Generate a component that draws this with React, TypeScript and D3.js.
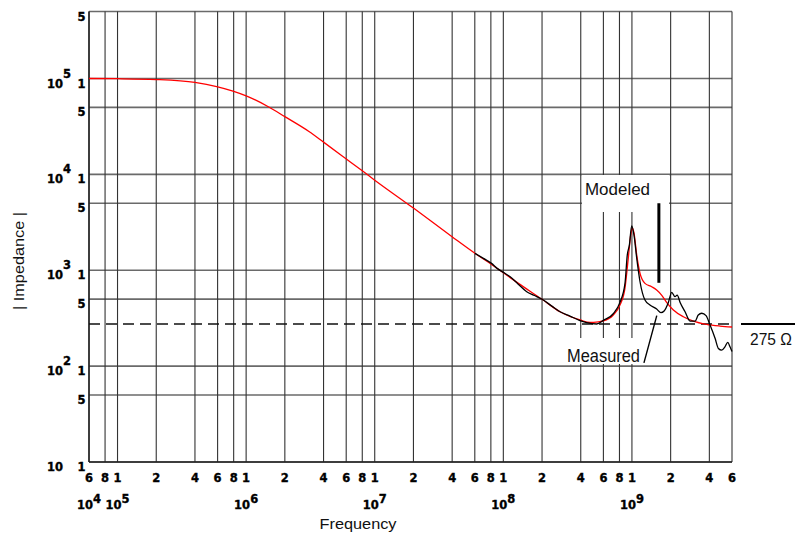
import React from 'react';
import * as d3 from 'd3';

// ---- axis / grid data ----
const xGridFreqs = [6e4, 8e4, 1e5, 2e5, 4e5, 6e5, 8e5, 1e6, 2e6, 4e6, 6e6, 8e6, 1e7, 2e7, 4e7, 6e7, 8e7, 1e8, 2e8, 4e8, 6e8, 8e8, 1e9, 2e9, 4e9, 6e9];
const xTickLabels = ['6', '8', '1', '2', '4', '6', '8', '1', '2', '4', '6', '8', '1', '2', '4', '6', '8', '1', '2', '4', '6', '8', '1', '2', '4', '6'];
const xDecadeFreqs = [6e4, 1e5, 1e6, 1e7, 1e8, 1e9];
const xDecadeExps = ['4', '5', '6', '7', '8', '9'];

const yGridValues = [10, 50, 100, 500, 1e3, 5e3, 1e4, 5e4, 1e5, 5e5];
const yTickLabels = ['1', '5', '1', '5', '1', '5', '1', '5', '1', '5'];
const yDecadeValues = [10, 100, 1e3, 1e4, 1e5];
const yDecadeExps = ['', '2', '3', '4', '5'];

// ---- series ----
const modeledFreq = [6e4, 1e5, 2e5, 4e5, 5.9e5, 7.9e5, 1e6, 1.5e6, 2e6, 3.08e6, 4e6, 6.05e6, 8.15e6, 1e7, 2e7, 3.97e7, 6.2e7, 8.1e7, 1e8, 1.31e8, 2e8, 2.76e8, 3.95e8, 4.72e8, 5.48e8, 6e8, 7.16e8, 8.07e8, 8.83e8, 9.37e8, 9.78e8, 1.007e9, 1.038e9, 1.09e9, 1.156e9, 1.263e9, 1.425e9, 1.557e9, 1.7e9, 1.86e9, 2.1e9, 2.51e9, 3e9, 3.81e9, 4.84e9, 6e9];
const modeledZ = [1e5, 9.95e4, 9.75e4, 9.1e4, 8.25e4, 7.4e4, 6.6e4, 5.05e4, 4.0e4, 2.8e4, 2.17e4, 1.44e4, 1.07e4, 8.7e3, 4.45e3, 2.25e3, 1.46e3, 1.15e3, 940, 730, 498, 369, 303, 285, 290, 296, 341, 434, 652, 1340, 2330, 2770, 2440, 1440, 929, 730, 673, 622, 551, 462, 385, 327, 295, 273, 262, 256];

const measuredFreq = [6.02e7, 7e7, 8.1e7, 9e7, 1e8, 1.13e8, 1.3e8, 1.52e8, 1.75e8, 2e8, 2.4e8, 2.76e8, 3.3e8, 3.9e8, 4.45e8, 5.32e8, 6e8, 7.16e8, 8.07e8, 8.83e8, 9.2e8, 9.55e8, 9.96e8, 1.038e9, 1.09e9, 1.156e9, 1.263e9, 1.38e9, 1.557e9, 1.68e9, 1.78e9, 1.92e9, 2.04e9, 2.16e9, 2.25e9, 2.37e9, 2.59e9, 2.83e9, 3.1e9, 3.28e9, 3.49e9, 3.77e9, 4.05e9, 4.43e9, 4.7e9, 4.99e9, 5.29e9, 5.56e9, 5.79e9, 6e9];
const measuredZ = [1500, 1330, 1180, 1040, 950, 855, 720, 597, 545, 498, 420, 369, 333, 300, 284, 275, 300, 352, 462, 730, 1440, 1830, 2910, 2330, 1330, 759, 489, 434, 394, 361, 376, 462, 589, 530, 551, 462, 369, 295, 295, 341, 356, 336, 268, 195, 153, 147, 159, 177, 159, 142];

const refImpedance = 275;

const W = 795;
const H = 540;
const LEFT = 89;
const RIGHT = 732;
const TOP = 11.5;
const BOTTOM = 462;

const TICK_FONT = "'DejaVu Sans', Verdana, sans-serif";
const LABEL_FONT = "'Liberation Sans Narrow', 'Liberation Sans', Arial, sans-serif";

export default function App() {
  const x = d3.scaleLog().domain([6e4, 6e9]).range([LEFT, RIGHT]);
  const y = d3.scaleLog().domain([10, 5e5]).range([BOTTOM, TOP]);

  const line = d3
    .line<[number, number]>()
    .x((d) => x(d[0]))
    .y((d) => y(d[1]))
    .curve(d3.curveMonotoneX);

  const modeled: [number, number][] = modeledFreq.map((f, i) => [f, modeledZ[i]]);
  const measured: [number, number][] = measuredFreq.map((f, i) => [f, measuredZ[i]]);

  const yRef = y(refImpedance);

  // annotation anchors (data space)
  const modLeadX = x(1.62e9);
  const modLeadTop = y(5000);
  const modLeadBot = y(740);
  const measLeadFrom = [x(1.56e9), y(336)];
  const measLeadTo = [x(1.24e9), y(108)];

  const tickStyle = {
    fontFamily: TICK_FONT,
    fontWeight: 'bold' as const,
    fontSize: 11.5,
    fill: '#000',
    stroke: '#000',
    strokeWidth: 0.35,
  };

  return (
    <svg width={W} height={H} style={{ position: 'absolute', left: 0, top: 0, background: '#fff' }}>
      <rect x={0} y={0} width={W} height={H} fill="#fff" />
      {/* horizontal grid */}
      {yGridValues.map((v, i) => (
        <line key={'hg' + i} x1={LEFT} x2={RIGHT} y1={y(v)} y2={y(v)} stroke="#6a6a6a" strokeWidth={1.6} />
      ))}
      {/* vertical grid */}
      {xGridFreqs.map((f, i) => (
        <line key={'vg' + i} x1={x(f)} x2={x(f)} y1={TOP} y2={BOTTOM} stroke="#333" strokeWidth={1.1} />
      ))}
      {/* frame emphasis */}
      <line x1={LEFT} x2={LEFT} y1={TOP} y2={BOTTOM} stroke="#222" strokeWidth={1.5} />
      <line x1={LEFT} x2={RIGHT} y1={BOTTOM} y2={BOTTOM} stroke="#222" strokeWidth={1.5} />

      {/* label background boxes */}
      <rect x={582} y={175} width={87} height={37} fill="#fff" />
      <rect x={565} y={338} width={77} height={26} fill="#fff" />

      {/* reference dashed line */}
      <line x1={LEFT} x2={RIGHT} y1={yRef} y2={yRef} stroke="#111" strokeWidth={1.5} strokeDasharray="11 6" />
      <line x1={741} x2={795} y1={yRef} y2={yRef} stroke="#000" strokeWidth={2} />
      <text x={771} y={345} fontFamily={LABEL_FONT} fontSize={16.5} textAnchor="middle" textLength={42} lengthAdjust="spacingAndGlyphs" fill="#111">
        275 Ω
      </text>

      {/* curves */}
      <path d={line(modeled) || ''} fill="none" stroke="#ff0000" strokeWidth={1.3} />
      <path d={line(measured) || ''} fill="none" stroke="#000" strokeWidth={1.3} />

      {/* annotations */}
      <text x={585} y={195} fontFamily={LABEL_FONT} fontSize={17} textLength={65} lengthAdjust="spacingAndGlyphs" fill="#111">
        Modeled
      </text>
      <line x1={modLeadX} x2={modLeadX} y1={modLeadTop} y2={modLeadBot} stroke="#000" strokeWidth={3} />
      <text x={567} y={362} fontFamily={LABEL_FONT} fontSize={17.5} textLength={73} lengthAdjust="spacingAndGlyphs" fill="#111">
        Measured
      </text>
      <line x1={measLeadFrom[0]} y1={measLeadFrom[1]} x2={measLeadTo[0]} y2={measLeadTo[1]} stroke="#000" strokeWidth={1.4} />

      {/* y tick labels */}
      {yGridValues.map((v, i) => (
        <text key={'yt' + i} x={77.5} y={y(v) + 9} {...tickStyle}>
          {yTickLabels[i]}
        </text>
      ))}
      {yDecadeValues.map((v, i) => (
        <g key={'yd' + i}>
          <text x={63} y={y(v) + 9} textAnchor="end" {...tickStyle}>
            10
          </text>
          {yDecadeExps[i] && (
            <text x={63} y={y(v) - 1} {...tickStyle}>
              {yDecadeExps[i]}
            </text>
          )}
        </g>
      ))}

      {/* x tick labels */}
      {xGridFreqs.map((f, i) => (
        <text key={'xt' + i} x={x(f)} y={482} textAnchor="middle" {...tickStyle}>
          {xTickLabels[i]}
        </text>
      ))}
      {xDecadeFreqs.map((f, i) => (
        <g key={'xd' + i}>
          <text x={x(f) + 4} y={508.5} textAnchor="end" {...tickStyle}>
            10
          </text>
          <text x={x(f) + 4} y={503} {...tickStyle}>
            {xDecadeExps[i]}
          </text>
        </g>
      ))}

      {/* axis titles */}
      <text x={358} y={529} fontFamily={LABEL_FONT} fontSize={15.5} textAnchor="middle" textLength={77} lengthAdjust="spacingAndGlyphs" fill="#111">
        Frequency
      </text>
      <text
        transform="translate(24,261) rotate(-90)"
        fontFamily={LABEL_FONT}
        fontSize={15.5}
        textAnchor="middle"
        textLength={98}
        lengthAdjust="spacingAndGlyphs"
        fill="#111"
      >
        | Impedance |
      </text>
    </svg>
  );
}
